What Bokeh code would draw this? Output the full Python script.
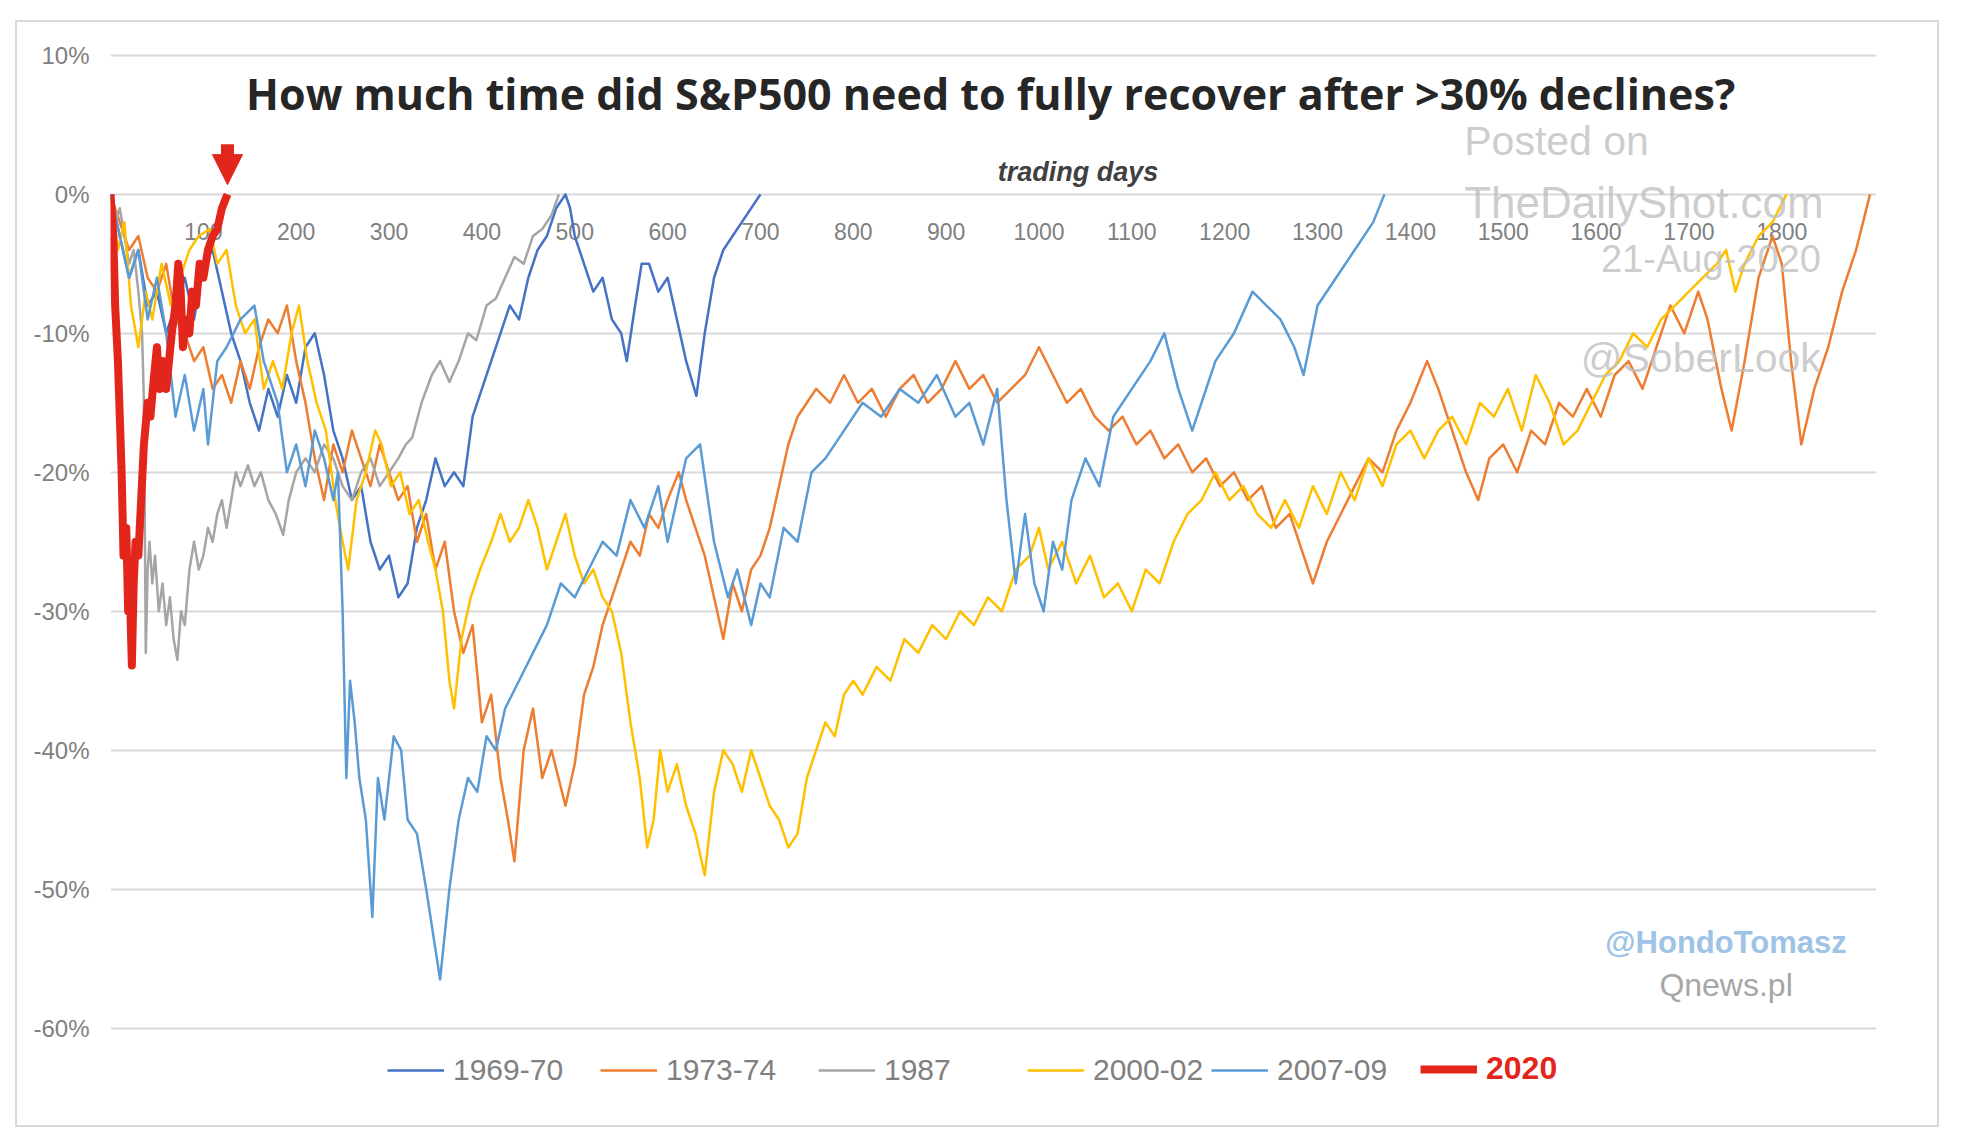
from bokeh.plotting import figure
from bokeh.models import (LinearAxis, FixedTicker, Range1d, Legend, LegendItem,
                          Label, Arrow, NormalHead, Grid)
from bokeh.embed import file_html
from bokeh.resources import INLINE

# ---------------- data ----------------
title_text = "How much time did S&P500 need to fully recover after >30% declines?"
x_axis_title = "trading days"
x_ticks = list(range(0, 1900, 100))
x_tick_labels = [str(t) for t in x_ticks]
y_ticks = [10, 0, -10, -20, -30, -40, -50, -60]
y_tick_labels = ["10%", "0%", "-10%", "-20%", "-30%", "-40%", "-50%", "-60%"]

series_names = ["1969-70", "1973-74", "1987", "2000-02", "2007-09", "2020"]

days_1969 = [0, 10, 20, 30, 40, 50, 60, 70, 80, 90, 100, 110, 120, 130, 140, 150, 160, 170, 180, 190,
             200, 210, 220, 230, 240, 250, 260, 270, 280, 290, 300, 310, 320, 330, 340, 350, 360, 370, 380, 390,
             400, 410, 420, 430, 440, 450, 460, 470, 480, 490, 495, 500, 510, 520, 530, 540, 550, 556, 565, 572,
             580, 590, 600, 610, 620, 631, 640, 650, 660, 670, 680, 690, 700]
pct_1969 = [0, -3, -6, -4, -8, -7, -10, -8, -6, -9, -5, -4, -7, -10, -12, -15, -17, -14, -16, -13,
            -15, -11, -10, -13, -17, -19, -22, -21, -25, -27, -26, -29, -28, -24, -22, -19, -21, -20, -21, -16,
            -14, -12, -10, -8, -9, -6, -4, -3, -1, 0, -1, -3, -5, -7, -6, -9, -10, -12, -8, -5,
            -5, -7, -6, -9, -12, -14.5, -10, -6, -4, -3, -2, -1, 0]

days_1973 = [0, 10, 20, 30, 40, 50, 60, 70, 80, 90, 100, 110, 120, 130, 140, 150, 160, 170, 180, 190,
             200, 210, 220, 230, 240, 250, 260, 270, 280, 290, 300, 310, 320, 330, 340, 350, 360, 370, 380, 390,
             400, 410, 420, 428, 435, 445, 455, 465, 475, 490, 500, 510, 520, 530, 540, 550, 560, 570, 580, 590,
             600, 612, 620, 630, 640, 650, 660, 670, 680, 690, 700, 710, 720, 730, 740, 750, 760, 775, 790, 805,
             820, 835, 850, 865, 880, 895, 910, 925, 940, 955, 970, 985, 1000, 1015, 1030, 1045, 1060, 1075, 1090, 1105,
             1120, 1135, 1150, 1165, 1180, 1195, 1210, 1225, 1240, 1255, 1270, 1285, 1295, 1310, 1325, 1340, 1355, 1370, 1385, 1400,
             1418, 1430, 1445, 1460, 1473, 1485, 1500, 1515, 1530, 1545, 1560, 1575, 1590, 1605, 1620, 1635, 1650, 1665, 1680, 1695,
             1710, 1720, 1735, 1746, 1760, 1775, 1790, 1800, 1810, 1821, 1835, 1850, 1865, 1880, 1895]
pct_1973 = [0, -2, -4, -3, -6, -7, -5, -9, -10, -12, -11, -14, -13, -15, -12, -14, -11, -9, -10, -8,
            -12, -15, -19, -22, -18, -20, -17, -19, -21, -18, -20, -22, -21, -25, -23, -27, -25, -30, -33, -31,
            -38, -36, -42, -45, -48, -40, -37, -42, -40, -44, -41, -36, -34, -31, -29, -27, -25, -26, -23, -24,
            -22, -20, -22, -24, -26, -29, -32, -28, -30, -27, -26, -24, -21, -18, -16, -15, -14, -15, -13, -15,
            -14, -16, -14, -13, -15, -14, -12, -14, -13, -15, -14, -13, -11, -13, -15, -14, -16, -17, -16, -18,
            -17, -19, -18, -20, -19, -21, -20, -22, -21, -24, -23, -26, -28, -25, -23, -21, -19, -20, -17, -15,
            -12, -14, -17, -20, -22, -19, -18, -20, -17, -18, -15, -16, -14, -16, -13, -12, -14, -11, -8, -10,
            -7, -9, -14, -17, -12, -6, -3, -5, -12, -18, -14, -11, -7, -4, 0]

days_1987 = [0, 5, 10, 15, 20, 25, 30, 34, 36, 38, 40, 42, 45, 48, 52, 56, 60, 64, 68, 72,
             76, 80, 85, 90, 95, 100, 105, 110, 115, 120, 125, 130, 135, 140, 148, 155, 162, 170, 178, 186,
             192, 200, 210, 220, 230, 240, 250, 260, 270, 280, 290, 300, 310, 318, 325, 335, 346, 355, 365, 375,
             385, 394, 405, 415, 425, 435, 445, 455, 465, 475, 483]
pct_1987 = [0, -2, -1, -3, -5, -4, -7, -10, -15, -33, -27, -25, -28, -26, -30, -28, -31, -29, -32, -33.5,
            -30, -31, -27, -25, -27, -26, -24, -25, -23, -22, -24, -22, -20, -21, -19.5, -21, -20, -22, -23, -24.5,
            -22, -20, -19, -20, -18, -19, -21, -22, -20, -19, -21, -20, -19, -18, -17.5, -15, -13, -12, -13.5, -12,
            -10, -10.5, -8, -7.5, -6, -4.5, -5, -3, -2.5, -1.5, 0]

days_2000 = [0, 8, 15, 22, 30, 38, 45, 55, 65, 75, 85, 95, 107, 115, 125, 135, 145, 155, 165, 175,
             185, 195, 203, 212, 222, 232, 242, 250, 256, 265, 275, 285, 292, 302, 312, 322, 332, 342, 350, 358,
             365, 370, 378, 388, 398, 410, 420, 430, 440, 450, 460, 470, 480, 490, 500, 510, 520, 530, 540, 550,
             560, 570, 578, 585, 592, 600, 610, 620, 630, 640, 650, 660, 670, 680, 690, 700, 710, 720, 730, 740,
             750, 760, 770, 780, 790, 800, 810, 825, 840, 855, 870, 885, 900, 915, 930, 945, 960, 975, 990, 1000,
             1010, 1025, 1040, 1055, 1070, 1085, 1100, 1115, 1130, 1145, 1160, 1175, 1190, 1205, 1220, 1235, 1250, 1265, 1280, 1295,
             1310, 1325, 1340, 1355, 1370, 1385, 1400, 1415, 1430, 1445, 1460, 1475, 1490, 1505, 1520, 1535, 1550, 1565, 1580, 1595,
             1610, 1625, 1640, 1655, 1670, 1685, 1700, 1715, 1730, 1740, 1750, 1760, 1775, 1790, 1805]
pct_2000 = [0, -4, -2, -8, -11, -7, -9, -5, -8, -6, -4, -3, -2.5, -5, -4, -8, -10, -9, -14, -12,
            -14, -10, -8, -12, -15, -17, -22, -25, -27, -22, -20, -17, -18, -21, -20, -23, -22, -25, -27, -30,
            -35, -37, -32, -29, -27, -25, -23, -25, -24, -22, -24, -27, -25, -23, -26, -28, -27, -29, -30, -33,
            -38, -42, -47, -45, -40, -43, -41, -44, -46, -49, -43, -40, -41, -43, -40, -42, -44, -45, -47, -46,
            -42, -40, -38, -39, -36, -35, -36, -34, -35, -32, -33, -31, -32, -30, -31, -29, -30, -27, -26, -24,
            -27, -25, -28, -26, -29, -28, -30, -27, -28, -25, -23, -22, -20, -22, -21, -23, -24, -22, -24, -21,
            -23, -20, -22, -19, -21, -18, -17, -19, -17, -16, -18, -15, -16, -14, -17, -13, -15, -18, -17, -15,
            -13, -12, -10, -11, -9, -8, -7, -6, -5, -4, -7, -5, -3, -2, 0]

days_2007 = [0, 10, 20, 30, 40, 50, 60, 70, 80, 90, 100, 105, 115, 125, 140, 155, 165, 180, 190, 200,
             210, 220, 230, 240, 245, 250, 254, 258, 263, 268, 275, 282, 288, 295, 305, 313, 320, 330, 340, 355,
             365, 375, 385, 395, 405, 415, 425, 440, 455, 470, 485, 500, 515, 530, 545, 560, 575, 590, 600, 610,
             620, 635, 650, 665, 675, 690, 700, 710, 725, 740, 755, 770, 790, 810, 830, 850, 870, 890, 910, 925,
             940, 955, 965, 975, 985, 995, 1005, 1015, 1025, 1035, 1050, 1065, 1080, 1100, 1120, 1135, 1150, 1165, 1175, 1190,
             1210, 1230, 1245, 1260, 1275, 1285, 1300, 1320, 1340, 1360, 1372]
pct_2007 = [0, -3, -6, -4, -9, -6, -10, -16, -13, -17, -14, -18, -12, -11, -9, -8, -12, -15, -20, -18,
            -21, -17, -19, -22, -20, -30, -42, -35, -38, -42, -45, -52, -42, -45, -39, -40, -45, -46, -50, -56.5,
            -50, -45, -42, -43, -39, -40, -37, -35, -33, -31, -28, -29, -27, -25, -26, -22, -24, -21, -25, -22,
            -19, -18, -25, -29, -27, -31, -28, -29, -24, -25, -20, -19, -17, -15, -16, -14, -15, -13, -16, -15,
            -18, -14, -22, -28, -23, -28, -30, -25, -27, -22, -19, -21, -16, -14, -12, -10, -14, -17, -15, -12,
            -10, -7, -8, -9, -11, -13, -8, -6, -4, -2, 0]

days_2020 = [0, 3, 5, 8, 12, 14, 17, 19, 21, 23, 25, 27, 30, 33, 36, 40, 43, 47, 50, 53,
             57, 60, 63, 66, 70, 73, 75, 78, 81, 85, 88, 92, 96, 100, 105, 110, 115, 120, 126]
pct_2020 = [0, -3, -8, -12, -20, -26, -24, -30, -29, -33.9, -28, -25, -26, -22, -18, -15, -16, -13, -11, -14,
            -12, -14, -12, -10, -8, -5, -6, -11, -9, -10, -7, -8, -5, -6, -4, -3, -2.5, -1, 0]

series_days = [days_1969, days_1973, days_1987, days_2000, days_2007, days_2020]
series_pct = [pct_1969, pct_1973, pct_1987, pct_2000, pct_2007, pct_2020]

# ---------------- styles ----------------
colors = ["#4472C4", "#ED7D31", "#A5A5A5", "#FFC000", "#5B9BD5", "#E3261C"]
widths = [2.5, 2.5, 2.5, 2.5, 2.5, 8]
label_font = "Liberation Sans"
gray_text = "#808080"

p = figure(width=1924, height=1107, x_range=Range1d(0, 1902), y_range=Range1d(-66, 11),
           x_axis_type=None, y_axis_type=None, output_backend="svg", toolbar_location=None,
           min_border_left=93, min_border_right=65, min_border_top=19, min_border_bottom=18,
           margin=(20, 0, 0, 15))
p.styles = {"border": "2px solid #d9d9d9"}
p.outline_line_color = None
p.background_fill_color = "white"
p.border_fill_color = "white"

grid = Grid(dimension=1, ticker=FixedTicker(ticks=y_ticks), grid_line_color="#d9d9d9", grid_line_width=2)
p.add_layout(grid)

y_axis = LinearAxis(ticker=FixedTicker(ticks=y_ticks),
                    major_label_overrides={t: s for t, s in zip(y_ticks, y_tick_labels)},
                    axis_line_color=None, major_tick_line_color=None, minor_tick_line_color=None,
                    major_tick_out=0, major_label_standoff=21,
                    major_label_text_font=label_font, major_label_text_font_size="24px",
                    major_label_text_color=gray_text)
p.add_layout(y_axis, "left")

x_axis = LinearAxis(fixed_location=0, ticker=FixedTicker(ticks=x_ticks),
                    major_label_overrides={t: s for t, s in zip(x_ticks, x_tick_labels)},
                    axis_line_color=None, major_tick_line_color=None, minor_tick_line_color=None,
                    major_tick_out=0, major_label_standoff=29,
                    major_label_text_font=label_font, major_label_text_font_size="23px",
                    major_label_text_color=gray_text)
x_axis.level = "underlay"
p.add_layout(x_axis, "below")

renderers = []
for d, v, c, w in zip(series_days, series_pct, colors, widths):
    renderers.append(p.line(d, v, line_color=c, line_width=w, line_join="round"))

# legend: one legend per entry so positions match the picture
legend_x = [277, 490, 708, 917, 1101, 1310]
for i, (name, r) in enumerate(zip(series_names, renderers)):
    is_last = (i == len(series_names) - 1)
    leg = Legend(items=[LegendItem(label=name, renderers=[r])], location=(legend_x[i], 24),
                 orientation="horizontal", glyph_width=57, glyph_height=30, label_height=30,
                 label_standoff=9, padding=0, margin=0, border_line_color=None,
                 background_fill_alpha=0,
                 label_text_font="Liberation Sans",
                 label_text_font_size=("32px" if is_last else "30px"),
                 label_text_font_style=("bold" if is_last else "normal"),
                 label_text_color=(colors[-1] if is_last else gray_text))
    p.add_layout(leg)

# title and axis title inside the plot area
p.add_layout(Label(x=948, y=7.26, text=title_text, text_align="center", text_baseline="middle",
                   text_font="Open Sans", text_font_style="bold", text_font_size="43px",
                   text_color="#262626"))
p.add_layout(Label(x=1042, y=1.61, text=x_axis_title, text_align="center", text_baseline="middle",
                   text_font="Liberation Sans", text_font_style="bold italic", text_font_size="27px",
                   text_color="#404040"))

# red arrow pointing at the end of the 2020 line
red = colors[-1]
p.add_layout(Arrow(end=NormalHead(size=30, fill_color=red, line_color=red),
                   x_start=days_2020[-1], y_start=3.6, x_end=days_2020[-1], y_end=0.7,
                   line_color=red, line_width=13))

# watermarks
wm = "#bfbfbf"
p.add_layout(Label(x=1458, y=3.82, text="Posted on", text_align="left", text_baseline="alphabetic",
                   text_font="Liberation Sans", text_font_size="41px", text_color=wm, text_alpha=0.8))
p.add_layout(Label(x=1458, y=-0.55, text="TheDailyShot.com", text_align="left", text_baseline="alphabetic",
                   text_font="Liberation Sans", text_font_size="44px", text_color=wm, text_alpha=0.8))
p.add_layout(Label(x=1842, y=-4.68, text="21-Aug-2020", text_align="right", text_baseline="alphabetic",
                   text_font="Liberation Sans", text_font_size="38px", text_color=wm, text_alpha=0.8))
p.add_layout(Label(x=1842, y=-11.8, text="@SoberLook", text_align="right", text_baseline="alphabetic",
                   text_font="Liberation Sans", text_font_size="41px", text_color=wm, text_alpha=0.8))
p.add_layout(Label(x=1740, y=-53.86, text="@HondoTomasz", text_align="center", text_baseline="alphabetic",
                   text_font="Liberation Sans", text_font_style="bold", text_font_size="31px",
                   text_color="#9DC3E6"))
p.add_layout(Label(x=1740, y=-56.87, text="Qnews.pl", text_align="center", text_baseline="alphabetic",
                   text_font="Liberation Sans", text_font_size="32px", text_color="#A6A6A6"))

open("out.html", "w").write(file_html(p, INLINE))
